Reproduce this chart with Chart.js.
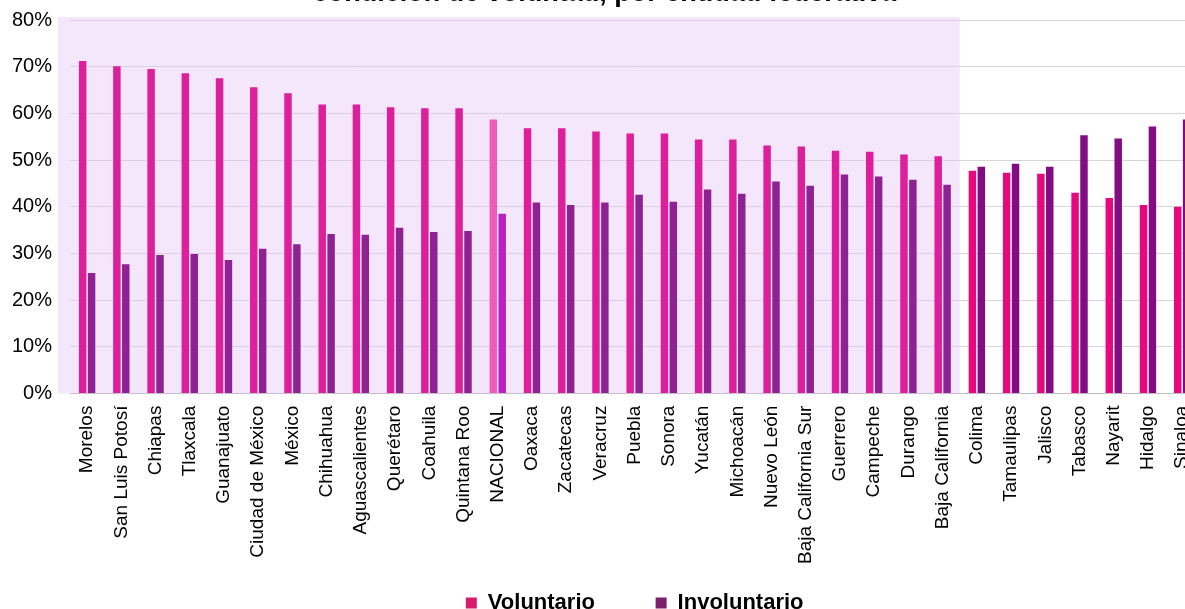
<!DOCTYPE html>
<html lang="es">
<head>
  <meta charset="utf-8" />
  <title>Condición de voluntad, por entidad federativa</title>
  <script src="https://cdn.jsdelivr.net/npm/chart.js@4.4.1/dist/chart.umd.min.js"></script>
  <style>
    html, body { margin: 0; padding: 0; background: #fff; overflow: hidden; }
    #clip { position: relative; width: 1185px; height: 609px; overflow: hidden; }
    #wrap { position: absolute; left: 0; top: -20px; width: 1209px; height: 644px; }
  </style>
</head>
<body>
  <div id="clip"><div id="wrap"><canvas id="chart"></canvas></div></div>

  <script>
    // Entidades, ordenadas como en la lámina
    const entidades = ["Morelos", "San Luis Potosí", "Chiapas", "Tlaxcala", "Guanajuato", "Ciudad de México",
      "México", "Chihuahua", "Aguascalientes", "Querétaro", "Coahuila", "Quintana Roo", "NACIONAL", "Oaxaca",
      "Zacatecas", "Veracruz", "Puebla", "Sonora", "Yucatán", "Michoacán", "Nuevo León", "Baja California Sur",
      "Guerrero", "Campeche", "Durango", "Baja California", "Colima", "Tamaulipas", "Jalisco", "Tabasco",
      "Nayarit", "Hidalgo", "Sinaloa"];

    // porcentajes
    const voluntario = [71.2, 70.1, 69.5, 68.6, 67.5, 65.6, 64.3, 61.9, 61.9, 61.3, 61.1, 61.1, 58.7, 56.8,
      56.8, 56.1, 55.7, 55.7, 54.4, 54.4, 53.1, 52.9, 52.0, 51.8, 51.2, 50.8, 47.7, 47.3, 47.1, 43.0,
      41.9, 40.4, 40.0];
    const involuntario = [25.8, 27.7, 29.7, 29.9, 28.6, 31.0, 32.0, 34.2, 34.0, 35.5, 34.6, 34.8, 38.5, 40.9,
      40.4, 40.9, 42.6, 41.1, 43.7, 42.8, 45.4, 44.5, 46.9, 46.5, 45.8, 44.7, 48.6, 49.2, 48.6, 55.3,
      54.6, 57.2, 58.7];

    const yTicks = [0, 10, 20, 30, 40, 50, 60, 70, 80];

    const lastShaded = 25; // Baja California, fin del recuadro lila

    const volColors = entidades.map((e, i) => e == "NACIONAL" ? "#F05AB8" : (i <= lastShaded ? "#DE1F9C" : "#E5087F"));
    const invColors = entidades.map((e, i) => e == "NACIONAL" ? "#B822C2" : (i <= lastShaded ? "#8E2293" : "#830C83"));

    // recuadro lila detrás de las primeras entidades
    const shade = {
      id: "shade",
      beforeDatasetsDraw(chart) {
        const { ctx, chartArea, scales } = chart;
        const right = (scales.x.getPixelForValue(lastShaded) + scales.x.getPixelForValue(lastShaded + 1)) / 2;
        ctx.save();
        ctx.fillStyle = "rgba(228, 196, 246, 0.42)";
        ctx.fillRect(chartArea.left - 12, chartArea.top - 3, right - chartArea.left + 12, chartArea.bottom - chartArea.top + 3);
        ctx.restore();
      }
    };

    new Chart(document.getElementById("chart"), {
      type: "bar",
      data: {
        labels: entidades,
        datasets: [
          { label: "Voluntario", data: voluntario, backgroundColor: volColors, categoryPercentage: 0.52, barPercentage: 0.84 },
          { label: "Involuntario", data: involuntario, backgroundColor: invColors, categoryPercentage: 0.52, barPercentage: 0.84 }
        ]
      },
      options: {
        responsive: true,
        maintainAspectRatio: false,
        animation: false,
        layout: { padding: 0 },
        plugins: {
          title: {
            display: true,
            text: "condición de voluntad, por entidad federativa",
            color: "#000",
            font: { family: "Liberation Sans, Arial", size: 27, weight: "bold" },
            padding: { top: -3, bottom: 10.6 }
          },
          legend: {
            position: "bottom",
            fullSize: false,
            labels: {
              color: "#000",
              font: { family: "Liberation Sans, Arial", size: 22, weight: "bold" },
              boxWidth: 11,
              boxHeight: 11,
              padding: 24,
              generateLabels: function(chart) {
                // espacios al final para separar las dos entradas como en el original
                return [
                  { text: "Voluntario\u00a0\u00a0\u00a0\u00a0\u00a0\u00a0", fillStyle: "#D81B6A", strokeStyle: "#D81B6A", lineWidth: 0, datasetIndex: 0 },
                  { text: "Involuntario", fillStyle: "#7E1F6E", strokeStyle: "#7E1F6E", lineWidth: 0, datasetIndex: 1 }
                ];
              }
            }
          },
          tooltip: { enabled: false }
        },
        scales: {
          x: {
            grid: { display: false },
            border: { color: "#BFBFBF" },
            ticks: {
              color: "#000",
              font: { family: "Liberation Sans, Arial", size: 19 },
              minRotation: 90,
              maxRotation: 90,
              autoSkip: false,
              padding: 4
            }
          },
          y: {
            min: 0,
            max: 80,
            afterBuildTicks: function(axis) {
              axis.ticks = yTicks.map(v => ({ value: v }));
            },
            afterFit: function(axis) {
              axis.width = 70;
            },
            grid: { color: "#D6D6D6", drawTicks: false },
            border: { display: false },
            ticks: {
              color: "#000",
              font: { family: "Liberation Sans, Arial", size: 20 },
              padding: 18,
              callback: v => v + "%"
            }
          }
        }
      },
      plugins: [shade]
    });
  </script>
</body>
</html>
